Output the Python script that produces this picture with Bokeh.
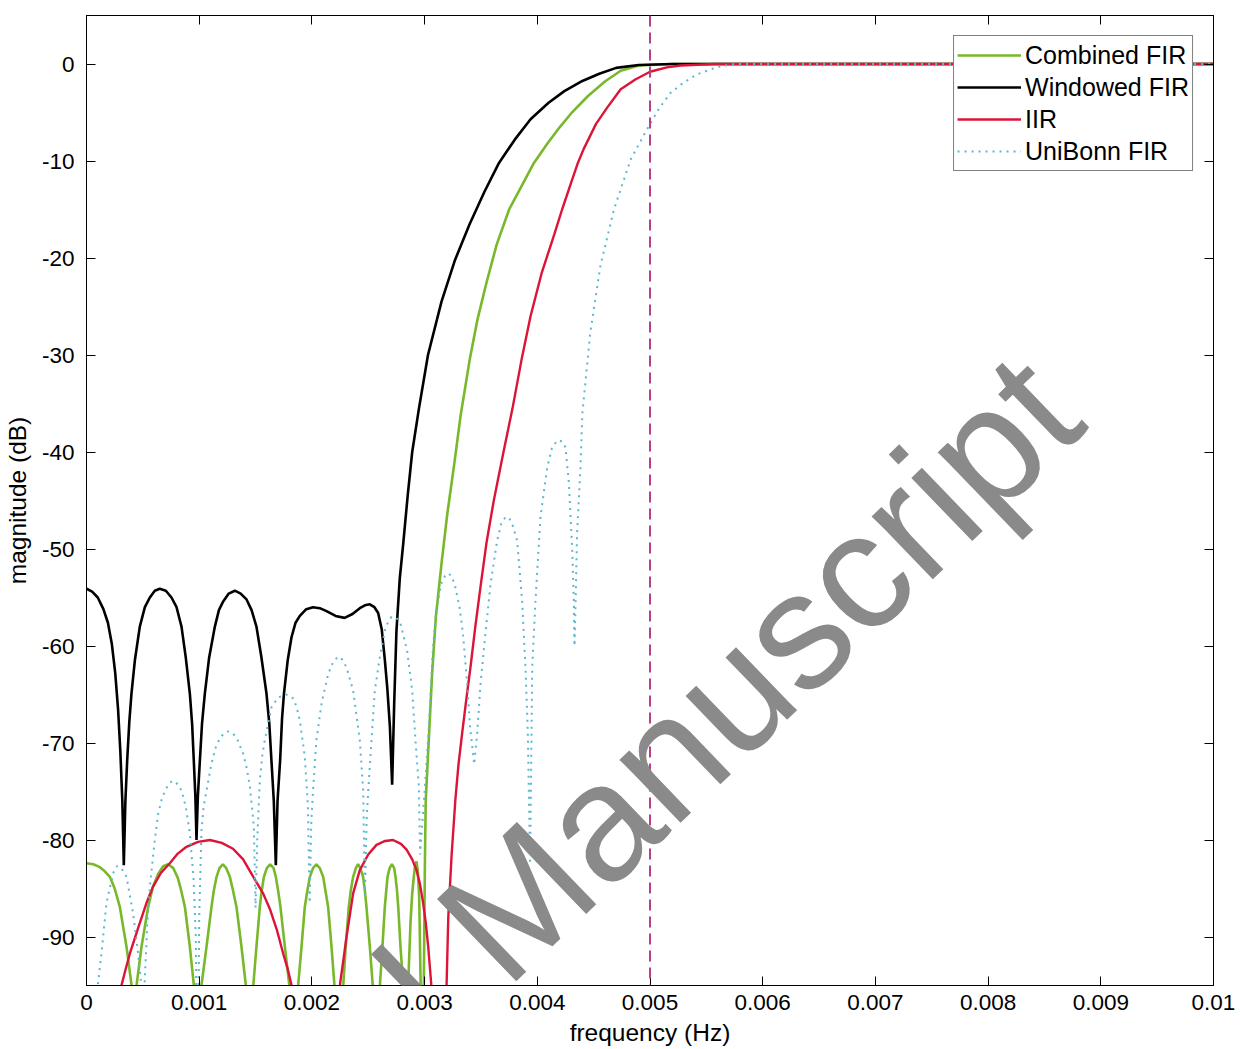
from bokeh.plotting import figure
from bokeh.models import FixedTicker, LinearAxis, Span, Label, Range1d
from bokeh.embed import file_html
from bokeh.resources import INLINE

FONT = "Liberation Sans"

# --- axis ticks -------------------------------------------------------------
freq_ticks = [0, 0.001, 0.002, 0.003, 0.004, 0.005, 0.006, 0.007, 0.008, 0.009, 0.01]
freq_tick_labels = ["0", "0.001", "0.002", "0.003", "0.004", "0.005",
                    "0.006", "0.007", "0.008", "0.009", "0.01"]
db_ticks = [-90, -80, -70, -60, -50, -40, -30, -20, -10, 0]
db_tick_labels = ["-90", "-80", "-70", "-60", "-50", "-40", "-30", "-20", "-10", "0"]

cutoff_hz = 0.005

# --- Combined FIR ------------------------------------------------------------
comb_f = [0, 0.00006, 0.000118, 0.00016, 0.000207, 0.00025, 0.000296, 0.000355, 0.0004, 0.00042,
          0.000444, 0.000488, 0.000547, 0.00059, 0.000636, 0.00068, 0.000725, 0.00077, 0.00081, 0.00084,
          0.000873, 0.000917, 0.000953, 0.00098,
          0.00102, 0.001065, 0.001109, 0.00113, 0.001154, 0.00118, 0.00121, 0.00124, 0.001272, 0.0013,
          0.001331, 0.001375, 0.001414, 0.00145,
          0.00148, 0.001508, 0.001538, 0.001555, 0.001574, 0.0016, 0.00163, 0.00166, 0.00168, 0.0017,
          0.001721, 0.00176, 0.0018, 0.00184,
          0.001878, 0.001908, 0.001937, 0.00196, 0.001982, 0.00201, 0.00204, 0.00207, 0.0021, 0.00212,
          0.002144, 0.002174, 0.0022, 0.00224,
          0.002278, 0.0023, 0.002327, 0.002345, 0.002366, 0.00239, 0.00241, 0.00243, 0.002454, 0.00247,
          0.002484, 0.002514, 0.00254, 0.00257,
          0.002603, 0.002626, 0.002647, 0.00266, 0.002671, 0.00269, 0.00271, 0.00273, 0.002742, 0.002755,
          0.002766, 0.002786, 0.00281, 0.00283,
          0.002854, 0.002875, 0.00289, 0.002904, 0.002916, 0.002928, 0.00294, 0.002952, 0.002965, 0.002978,
          0.002993, 0.003003, 0.00301, 0.00304, 0.003067, 0.0031, 0.00315, 0.0032, 0.00326, 0.00332,
          0.0034, 0.00347, 0.00355, 0.00364, 0.00375, 0.003851, 0.00397, 0.00409, 0.0042, 0.0043,
          0.00445, 0.0046, 0.00474, 0.0049, 0.0052, 0.01]
comb_db = [-82.4, -82.5, -82.8, -83.2, -83.8, -85.0, -86.9, -91.0, -95.0, -110,
           -95, -91, -86.9, -84.8, -83.5, -82.7, -82.5, -82.9, -83.9, -85.2,
           -86.9, -91, -95, -110,
           -95, -91, -86.9, -85.2, -83.8, -82.9, -82.5, -82.9, -83.8, -85.2,
           -86.9, -91, -95, -110,
           -95, -91, -86.9, -85.2, -83.8, -82.9, -82.5, -82.9, -83.8, -85.2,
           -86.9, -91, -95, -110,
           -95, -91, -86.9, -85.2, -83.8, -82.9, -82.5, -82.9, -83.8, -85.2,
           -86.9, -91, -95, -110,
           -95, -91, -86.9, -85.2, -83.8, -82.9, -82.5, -82.9, -83.8, -85.2,
           -86.9, -91, -95, -110,
           -95, -91, -86.9, -85.2, -83.8, -82.9, -82.5, -82.9, -83.8, -85.2,
           -86.9, -91, -95, -110,
           -95, -88.5, -85.5, -83.8, -82.6, -82.2, -83.2, -85.9, -95, -110,
           -95, -82, -76, -69, -62.8, -57, -51.5, -46.5, -41.5, -36.2,
           -30.5, -26.3, -22.5, -18.6, -15.0, -12.8, -10.2, -8.2, -6.5, -5.1,
           -3.3, -1.8, -0.7, -0.15, 0, 0]

# --- Windowed FIR ------------------------------------------------------------
win_f = [0, 0.00005, 0.0001, 0.00015, 0.00019, 0.000225, 0.000255, 0.00028, 0.0003, 0.000318, 0.000331,
         0.000345, 0.000361, 0.00038, 0.000399, 0.000429, 0.000473, 0.000518, 0.000562, 0.000606, 0.00065,
         0.000704, 0.000754, 0.000799, 0.000843, 0.000881, 0.000917, 0.000937, 0.000952, 0.000966, 0.000976,
         0.000988, 0.001006, 0.001025, 0.00105, 0.001088, 0.001139, 0.001175, 0.001213, 0.001262, 0.001316,
         0.001368, 0.00142, 0.001465, 0.001508, 0.00155, 0.001597, 0.001622, 0.001641, 0.001662, 0.00168,
         0.001695, 0.001718, 0.001735, 0.001752, 0.001785, 0.001819, 0.001855, 0.001893, 0.00195, 0.00201,
         0.00207, 0.00213, 0.00221, 0.00229, 0.00236, 0.002425, 0.00247, 0.002514, 0.002555, 0.002588,
         0.00262, 0.002647, 0.00267, 0.002692, 0.002712,
         0.00273, 0.00275, 0.00278, 0.00281, 0.00285, 0.00289, 0.00295, 0.00303, 0.00315, 0.00327,
         0.0034, 0.00353, 0.00366, 0.0038, 0.00394, 0.0041, 0.00424, 0.0044, 0.00455, 0.0047,
         0.0049, 0.0052, 0.01]
win_db = [-54.1, -54.4, -55.0, -56.2, -57.6, -59.8, -62.8, -66.5, -70.8, -76.0, -82.6,
          -76.0, -71.8, -67.8, -64.9, -61.5, -58.0, -56.0, -55.0, -54.3, -54.1,
          -54.3, -55.0, -56.0, -58.0, -61.2, -64.9, -68.0, -71.8, -75.5, -80.0,
          -75.5, -71.8, -68.0, -64.9, -61.2, -58.0, -56.3, -55.4, -54.6, -54.3,
          -54.6, -55.2, -56.3, -58.0, -61.0, -64.9, -68.0, -71.8, -76.0, -82.6,
          -76.0, -71.8, -67.5, -64.9, -61.5, -59.1, -57.6, -56.9, -56.2, -56.0,
          -56.1, -56.4, -56.9, -57.1, -56.7, -56.1, -55.8, -55.7, -56.0, -56.6,
          -58.3, -61.4, -64.5, -68.3, -74.3,
          -66, -58.5, -53, -49.5, -44.5, -40, -35.5, -30, -24.5, -20.2,
          -16.5, -13.2, -10.2, -7.8, -5.7, -4.0, -2.8, -1.75, -1.0, -0.4,
          -0.1, 0, 0]

# --- IIR ------------------------------------------------------------------------
iir_f = [0.00028, 0.00031, 0.00035, 0.000385, 0.00046, 0.000532, 0.000591, 0.00066, 0.000739, 0.00081,
         0.000887, 0.00099, 0.001095, 0.0012, 0.0013, 0.00139, 0.00148, 0.001567, 0.00163, 0.00169,
         0.001745, 0.00179, 0.00182, 0.00203,
         0.002248, 0.00228, 0.002307, 0.002366, 0.002425, 0.0025, 0.002573, 0.00265, 0.00272, 0.00279,
         0.00284, 0.00289, 0.002928, 0.00296, 0.002987, 0.00301, 0.003032, 0.00306, 0.00313,
         0.003195, 0.00321, 0.00324, 0.003274, 0.0033, 0.003333, 0.00337, 0.003407, 0.00345, 0.003496,
         0.00355, 0.003614, 0.0037, 0.00378, 0.00386, 0.00394, 0.00404, 0.00415, 0.00422, 0.004295,
         0.00436, 0.00441, 0.00452, 0.00462, 0.00474, 0.00487, 0.005, 0.00515, 0.00527, 0.00557, 0.01]
iir_db = [-110, -95, -93.2, -91.7, -89.0, -86.5, -84.8, -83.4, -82.4, -81.4,
          -80.7, -80.2, -80.0, -80.3, -80.9, -82.0, -83.8, -85.5, -87.2, -89.3,
          -91.7, -93.5, -95, -115,
          -95, -92.3, -90, -85.5, -83.1, -81.5, -80.5, -80.1, -80.0, -80.4,
          -81.0, -82.0, -83.1, -84.6, -86.5, -88.5, -91, -95, -112,
          -95, -88, -81.5, -75.7, -72.3, -69.0, -65.5, -62.2, -58.0, -53.9,
          -49.3, -45, -40, -35.5, -30.5, -26, -21.5, -17.6, -15.0, -12.4,
          -10.2, -8.8, -6.2, -4.5, -2.6, -1.6, -0.8, -0.35, -0.15, 0, 0]

# --- UniBonn FIR ----------------------------------------------------------------
bonn_f = [0.00006, 0.0001, 0.000133, 0.000177, 0.000237, 0.00027, 0.00031, 0.000355, 0.000414, 0.000458,
          0.000487, 0.0005,
          0.000515, 0.00054, 0.000562, 0.000606, 0.000636, 0.000665, 0.000695, 0.00073, 0.000763, 0.000795,
          0.000828, 0.000855, 0.000881, 0.000917, 0.00095, 0.00097, 0.000985,
          0.001, 0.00102, 0.00104, 0.001065, 0.001109, 0.001145, 0.001183, 0.00122, 0.001257, 0.001295,
          0.001331, 0.00139, 0.00142, 0.00145, 0.001485, 0.0015,
          0.001515, 0.001538, 0.00156, 0.001582, 0.001642, 0.0017, 0.001775, 0.001834, 0.001865, 0.001893,
          0.001937, 0.001965, 0.00198,
          0.001995, 0.00201, 0.00204, 0.002086, 0.002144, 0.00219, 0.002233, 0.00227, 0.002307, 0.002366,
          0.002425, 0.002455, 0.00247,
          0.002485, 0.0025, 0.002529, 0.002558, 0.002603, 0.00265, 0.00268, 0.002706, 0.00275, 0.002786,
          0.002845, 0.00289, 0.002919, 0.002949, 0.00296,
          0.003, 0.00304, 0.00307, 0.0031, 0.00315, 0.00318, 0.00321, 0.00324, 0.00327, 0.00331,
          0.00334, 0.003375, 0.003405, 0.00344,
          0.003467, 0.003496, 0.00354, 0.003585, 0.003644, 0.00368, 0.003718, 0.00375, 0.003777, 0.003821,
          0.003865, 0.003895, 0.003916, 0.003926, 0.003936,
          0.003955, 0.003984, 0.004028, 0.004088, 0.00413, 0.004176, 0.00422, 0.00425, 0.004281, 0.00431,
          0.004324, 0.00433,
          0.00434, 0.004353, 0.004383, 0.0044, 0.00447, 0.00456, 0.00468, 0.00483, 0.004975, 0.00508,
          0.00518, 0.0053, 0.00542, 0.0056, 0.00575, 0.01]
bonn_db = [-110, -95, -91.7, -86.5, -83.4, -82.7, -82.9, -83.8, -87.6, -91.7,
           -95, -110,
           -95, -88.5, -84.8, -80, -77.3, -75.9, -75.0, -74.2, -73.9, -74.1,
           -74.5, -75.4, -76.6, -79.3, -84, -90, -110,
           -88, -79, -76.5, -74.9, -72.1, -70.5, -69.5, -69.0, -68.8, -69.0,
           -69.4, -71.1, -72.5, -74.5, -78.6, -87,
           -80, -73.8, -71.3, -69.7, -66.3, -65.3, -65.0, -65.4, -66.3, -67.7,
           -71.4, -76.6, -86.5,
           -78, -74.9, -69.7, -65.9, -62.9, -61.6, -61.1, -61.4, -62.2, -64.6,
           -69.7, -74.9, -86,
           -78, -74.9, -69.7, -64.6, -61.1, -58.3, -57.4, -57.0, -57.1, -57.7,
           -60.5, -64.6, -69.7, -74.5, -81.5,
           -75, -68, -61, -56.5, -53.5, -52.8, -52.5, -52.8, -53.8, -56,
           -58.7, -63.5, -68.5, -72.2,
           -69.0, -63.9, -58.7, -53.6, -49.1, -47.4, -46.7, -46.8, -47.4, -49.1,
           -55.3, -62.2, -69.0, -75.7, -82.5,
           -62.2, -55.3, -46.7, -41.6, -39.6, -38.8, -38.9, -39.5, -43.3, -50.2,
           -55.3, -60,
           -55.3, -48.4, -41.6, -36, -27.7, -20.8, -15.0, -9.8, -6.7, -4.6,
           -3.0, -1.9, -1.06, -0.3, 0, 0]

p = figure(width=1240, height=1049, output_backend="svg", toolbar_location=None,
           x_range=Range1d(0, 0.01), y_range=Range1d(-95, 5),
           min_border_left=86, min_border_right=27, min_border_top=15, min_border_bottom=64,
           background_fill_color="white", border_fill_color="white")
p.grid.visible = False
p.outline_line_color = "black"
p.outline_line_width = 1

p.line(comb_f, comb_db, line_color="#78b82a", line_width=2.6, legend_label="Combined FIR")
p.line(win_f, win_db, line_color="black", line_width=2.6, legend_label="Windowed FIR")
p.line(iir_f, iir_db, line_color="#dc1438", line_width=2.4, legend_label="IIR")
p.line(bonn_f, bonn_db, line_color="#5bb8cf", line_width=2, line_dash="2 5", legend_label="UniBonn FIR")

# cutoff marker
p.add_layout(Span(location=cutoff_hz, dimension="height", line_color="#b8408a",
                  line_width=2, line_dash="11 6"))

def style_axis(ax, ticks, labels, show_labels=True):
    ax.ticker = FixedTicker(ticks=ticks)
    ax.major_label_overrides = dict(zip(ticks, labels))
    ax.major_tick_in = 9
    ax.major_tick_out = 0
    ax.minor_tick_line_color = None
    ax.major_tick_line_color = "black"
    ax.axis_line_color = "black"
    ax.major_label_text_font = FONT
    ax.major_label_text_font_size = "22.5px"
    ax.major_label_text_color = "black"
    ax.axis_label_text_font = FONT
    ax.axis_label_text_font_size = "24.5px"
    ax.axis_label_text_font_style = "normal"
    ax.axis_label_text_color = "black"
    if not show_labels:
        ax.major_label_text_font_size = "0px"
        ax.major_label_text_color = None
        ax.major_label_standoff = 0

xax = p.xaxis[0]
style_axis(xax, freq_ticks, freq_tick_labels)
xax.axis_label = "frequency (Hz)"
xax.major_label_standoff = 9
xax.axis_label_standoff = 6

yax = p.yaxis[0]
style_axis(yax, db_ticks, db_tick_labels)
yax.axis_label = "magnitude (dB)"
yax.major_label_standoff = 12
yax.axis_label_standoff = 8

top_ax = LinearAxis()
style_axis(top_ax, freq_ticks, [""] * len(freq_ticks), show_labels=False)
p.add_layout(top_ax, "above")
right_ax = LinearAxis()
style_axis(right_ax, db_ticks, [""] * len(db_ticks), show_labels=False)
p.add_layout(right_ax, "right")

leg = p.legend[0]
leg.location = "top_right"
leg.margin = 20
leg.padding = 3
leg.spacing = 0
leg.glyph_width = 64
leg.glyph_height = 32
leg.label_height = 32
leg.label_standoff = 4
leg.label_text_font = FONT
leg.label_text_font_size = "25px"
leg.label_text_color = "black"
leg.border_line_color = "black"
leg.border_line_width = 1
leg.background_fill_color = "white"
leg.background_fill_alpha = 1

# diagonal watermark across the axes
p.add_layout(Label(x=964, y=600, x_units="screen", y_units="screen",
                   text="Accepted Manuscript", angle=44, angle_units="deg",
                   text_align="right", text_baseline="alphabetic",
                   text_font=FONT, text_font_size="166px", text_color="#8a8a8a"))

open("out.html", "w").write(file_html(p, INLINE))
